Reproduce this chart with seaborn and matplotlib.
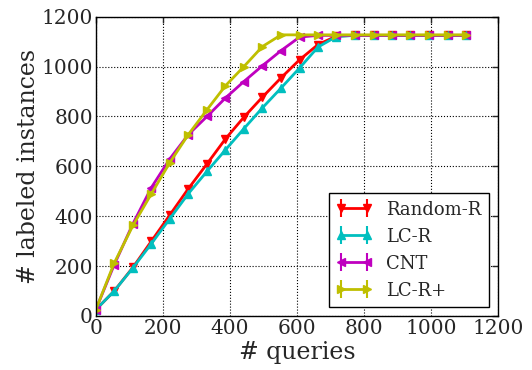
import pandas as pd
import seaborn as sns
import matplotlib.pyplot as plt

queries = [0, 55, 111, 166, 221, 276, 332, 387, 442, 497, 553,
           608, 663, 718, 774, 829, 884, 939, 995, 1050, 1105]

random_r = [25, 100, 195, 300, 405, 510, 610, 710, 797, 877, 955,
            1027, 1088, 1122, 1125, 1125, 1125, 1125, 1125, 1125, 1125]
lc_r = [25, 100, 193, 290, 390, 490, 580, 666, 751, 834, 914,
        994, 1078, 1120, 1125, 1125, 1125, 1125, 1125, 1125, 1125]
cnt = [25, 205, 370, 515, 630, 727, 800, 874, 940, 1003, 1064,
       1118, 1125, 1125, 1125, 1125, 1125, 1125, 1125, 1125, 1125]
lc_r_plus = [25, 212, 363, 490, 615, 727, 827, 923, 1000, 1080, 1127,
             1127, 1127, 1127, 1127, 1127, 1127, 1127, 1127, 1127, 1127]

series = [("Random-R", random_r, "r", "v"),
          ("LC-R", lc_r, "c", "^"),
          ("CNT", cnt, "m", "<"),
          ("LC-R+", lc_r_plus, "y", ">")]

sns.set_style("white")
plt.rcParams["font.family"] = ["DejaVu Serif"]
plt.rcParams["xtick.direction"] = "in"
plt.rcParams["ytick.direction"] = "in"

fig = plt.figure(figsize=(5.32, 3.7), dpi=100)
ax = fig.add_axes([0.180, 0.146, 0.756, 0.809])

handles = []
for name, vals, col, mk in series:
    df = pd.DataFrame({"q": queries, "n": vals})
    sns.lineplot(data=df, x="q", y="n", color=col, marker=mk, markersize=6,
                 markeredgecolor=col, markeredgewidth=1, linewidth=2, ax=ax, legend=False)
    h = ax.errorbar([], [], yerr=[], color=col, marker=mk, markersize=6, lw=2,
                    elinewidth=1.5, mec=col, label=name)
    handles.append(h)

ax.set_xlim(0, 1200)
ax.set_ylim(0, 1200)
ax.set_xticks(range(0, 1201, 200))
ax.set_yticks(range(0, 1201, 200))
ax.tick_params(labelsize=14.5, top=True, right=True, length=4, width=1, pad=2)
ax.grid(True, color="k", linestyle=":", linewidth=0.8)
for s in ax.spines.values():
    s.set_color("k")
    s.set_linewidth(1)
ax.set_xlabel("# queries", fontsize=17, labelpad=2)
ax.set_ylabel("# labeled instances", fontsize=17, labelpad=1)

leg = ax.legend(handles=handles, loc="lower right", fontsize=13, numpoints=2,
                fancybox=False, framealpha=1, edgecolor="k", borderaxespad=0.5)
leg.get_frame().set_linewidth(1)

fig.savefig("out.png", dpi=100)
